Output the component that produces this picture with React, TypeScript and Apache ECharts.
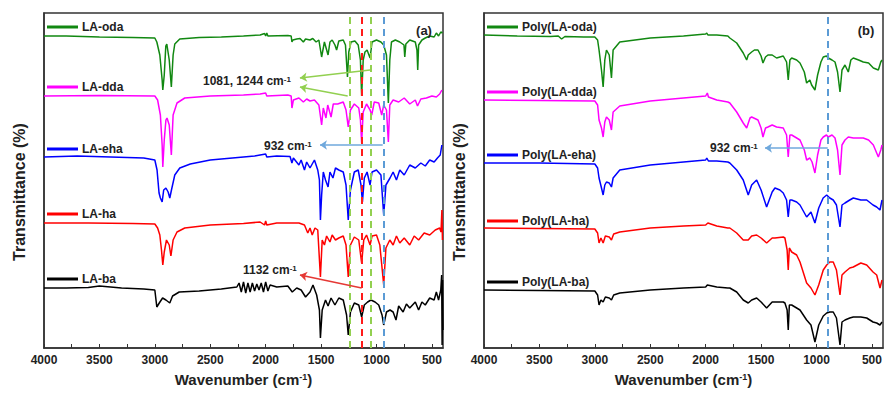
import React, { useEffect, useRef } from "react";
import * as echarts from "echarts";

// ---- Tick values (cm^-1) ----
const xLabelValues = [500, 1000, 1500, 2000, 2500, 3000, 3500, 4000];
const xTickValues = [500, 750, 1000, 1250, 1500, 1750, 2000, 2250, 2500, 2750, 3000, 3250, 3500, 3750, 4000];

// ---- Panel (a): monomers, [wavenumber, transmittance (offset, a.u.)] ----
const laOda = [[4000,31.2],[3800,31.2],[3500,31.1],[3200,31.05],[3000,31.0],[2982,30.6],[2955,29.3],[2934,26.8],[2928,25.8],[2915,27.3],[2901,30.2],[2892,30.4],[2870,28.8],[2851,26.1],[2835,29.3],[2820,30.4],[2775,30.9],[2600,31.05],[2400,31.1],[2200,31.2],[2050,31.3],[2010,31.45],[2000,31.2],[1990,31.5],[1980,31.2],[1800,31.25],[1770,31.2],[1763,30.6],[1754,30.8],[1720,30.9],[1690,30.95],[1660,30.6],[1640,30.9],[1600,30.8],[1575,30.95],[1545,30.6],[1520,30.8],[1495,29.1],[1470,30.6],[1437,29.3],[1420,30.6],[1400,30.8],[1375,30.3],[1360,29.8],[1340,30.7],[1300,30.8],[1280,30.3],[1262,27.1],[1250,29.6],[1230,30.6],[1195,30.7],[1165,30.3],[1145,28.8],[1134,25.2],[1120,28.8],[1104,29.6],[1085,29.8],[1058,29.0],[1040,30.6],[1000,30.8],[960,30.6],[935,30.3],[910,29.3],[893,24.5],[880,28.8],[865,30.6],[830,30.8],[790,30.6],[752,30.3],[745,29.1],[735,30.4],[700,30.8],[650,30.6],[635,29.8],[628,27.8],[620,30.3],[590,30.8],[560,31.0],[520,31.2],[480,31.1],[460,31.5],[440,31.2],[420,31.6],[405,31.5]];
const laDda = [[4000,25.2],[3500,25.25],[3000,25.2],[2975,24.8],[2950,23.3],[2934,20.3],[2928,18.1],[2915,20.8],[2900,22.8],[2890,23.0],[2870,22.3],[2851,19.3],[2835,23.3],[2800,24.5],[2730,25.0],[2500,25.2],[2200,25.3],[2050,25.4],[2000,25.5],[1990,25.2],[1800,25.3],[1770,25.2],[1763,24.0],[1750,24.8],[1700,25.0],[1660,24.6],[1630,24.9],[1600,24.7],[1560,24.8],[1520,24.3],[1495,22.3],[1480,24.0],[1456,23.0],[1440,24.3],[1410,23.1],[1390,24.4],[1350,24.4],[1300,24.6],[1275,23.8],[1255,22.1],[1235,23.8],[1200,24.4],[1160,24.0],[1145,22.8],[1134,20.5],[1120,23.6],[1090,24.4],[1058,23.8],[1043,23.3],[1020,24.6],[980,24.5],[953,23.3],[935,24.3],[910,23.8],[893,20.6],[880,24.3],[850,24.8],[800,24.6],[750,25.0],[700,24.4],[650,24.8],[630,24.2],[600,24.9],[550,25.0],[500,25.2],[460,25.1],[430,25.4],[410,25.8]];
const laEha = [[4000,19.1],[3700,19.2],[3400,19.1],[3100,19.0],[3000,18.8],[2980,17.8],[2962,15.5],[2950,15.0],[2934,14.6],[2920,15.8],[2900,16.0],[2880,15.6],[2865,15.0],[2850,15.8],[2820,17.3],[2775,18.0],[2680,18.4],[2500,18.8],[2300,19.0],[2100,19.2],[2000,19.4],[1990,19.1],[1900,19.2],[1780,19.15],[1763,18.5],[1750,19.0],[1700,18.3],[1680,18.8],[1650,17.8],[1630,18.6],[1600,18.0],[1560,18.8],[1530,17.8],[1515,16.8],[1506,12.8],[1495,15.3],[1480,17.6],[1460,16.8],[1437,16.1],[1420,17.6],[1393,17.0],[1370,18.0],[1340,17.8],[1300,17.6],[1275,16.3],[1255,12.8],[1235,15.8],[1200,17.6],[1165,17.8],[1140,16.3],[1127,14.6],[1110,17.0],[1085,17.6],[1058,16.3],[1040,17.6],[1000,17.8],[960,17.3],[935,13.3],[915,16.3],[878,17.0],[850,17.6],[820,16.8],[790,17.8],[750,17.3],[700,18.3],[650,18.0],[600,18.5],[560,18.2],[520,18.8],[480,18.6],[450,19.0],[425,19.3],[410,20.3]];
const laHa = [[4000,12.5],[3600,12.5],[3200,12.45],[3000,12.4],[2975,12.0],[2955,11.3],[2940,9.8],[2928,8.3],[2915,9.6],[2895,10.8],[2870,10.3],[2855,9.2],[2835,10.8],[2800,11.6],[2730,12.0],[2500,12.3],[2200,12.45],[2050,12.6],[2010,12.3],[2000,12.7],[1990,12.3],[1900,12.5],[1750,12.5],[1700,12.5],[1650,12.3],[1620,11.5],[1600,12.0],[1580,11.3],[1555,12.0],[1530,11.8],[1506,7.1],[1490,10.8],[1470,10.3],[1450,11.2],[1420,10.6],[1400,11.3],[1370,10.8],[1340,11.0],[1300,11.2],[1275,10.3],[1255,7.1],[1235,10.3],[1200,11.1],[1160,10.8],[1134,8.5],[1115,10.8],[1090,11.3],[1058,10.3],[1040,11.2],[1000,11.3],[970,10.3],[935,6.3],[915,10.0],[880,10.8],[850,10.3],[820,11.2],[790,10.5],[750,11.0],[700,10.3],[660,11.2],[620,10.8],[570,11.5],[520,11.3],[470,11.8],[430,12.0],[418,11.6],[410,13.8],[405,10.8]];
const laBa = [[4000,6.0],[3800,6.0],[3600,6.05],[3500,6.2],[3300,6.0],[3100,5.9],[3000,5.8],[2982,4.1],[2960,4.5],[2930,5.0],[2900,4.8],[2865,4.5],[2840,5.2],[2780,5.6],[2600,5.7],[2400,5.9],[2260,6.1],[2240,6.5],[2220,5.6],[2200,6.6],[2180,5.5],[2160,6.5],[2140,5.6],[2120,6.5],[2100,5.7],[2080,6.4],[2060,5.8],[2040,6.5],[2020,5.6],[2000,6.6],[1980,5.7],[1960,6.3],[1900,6.1],[1800,6.2],[1760,5.6],[1720,6.0],[1680,5.8],[1640,5.1],[1600,5.6],[1573,6.3],[1540,5.3],[1515,3.8],[1506,1.0],[1490,3.8],[1460,4.8],[1437,4.2],[1410,5.0],[1375,4.3],[1340,5.0],[1300,4.8],[1270,3.3],[1255,1.3],[1235,3.6],[1200,4.5],[1160,4.3],[1134,3.1],[1110,4.3],[1080,4.6],[1050,4.8],[1013,4.6],[980,4.3],[950,3.3],[935,2.3],[910,3.6],[878,3.8],[850,3.6],[824,2.8],[800,4.2],[760,3.6],[730,4.4],[700,4.0],[650,4.6],[620,3.8],[590,4.6],[560,4.3],[520,5.0],[480,4.8],[460,5.6],[440,4.8],[420,5.8],[412,7.3],[408,0.3],[404,6.8],[400,1.8]];

// ---- Panel (b): polymers ----
const polyOda = [[4000,31.3],[3700,31.2],[3400,31.15],[3330,31.2],[3300,30.9],[3270,31.15],[3100,31.1],[3000,31.1],[2975,30.8],[2962,29.8],[2940,27.8],[2925,26.1],[2910,28.8],[2895,29.8],[2870,29.3],[2850,27.0],[2835,29.8],[2775,30.6],[2500,31.0],[2200,31.2],[2000,31.4],[1990,31.5],[1980,31.3],[1900,31.3],[1800,31.2],[1782,31.0],[1720,30.5],[1661,29.5],[1630,28.8],[1616,29.3],[1585,29.6],[1560,29.8],[1528,29.8],[1500,29.2],[1483,28.5],[1460,29.1],[1438,29.3],[1400,29.3],[1360,29.0],[1300,29.2],[1270,28.6],[1255,26.8],[1240,28.8],[1224,29.0],[1179,28.8],[1149,28.5],[1110,27.6],[1089,26.5],[1060,26.8],[1044,26.3],[1014,25.8],[990,27.3],[960,28.6],[939,29.1],[910,29.2],[894,29.0],[860,28.8],[833,28.6],[810,27.6],[788,25.6],[770,27.8],[743,28.3],[713,27.6],[690,28.8],[668,29.0],[620,28.8],[578,28.6],[530,28.5],[487,28.0],[442,27.8],[420,28.6],[409,28.8]];
const polyDda = [[4000,24.8],[3500,24.75],[3000,24.7],[2975,24.3],[2962,22.8],[2940,22.0],[2925,21.1],[2910,22.6],[2895,23.1],[2870,22.8],[2850,21.8],[2835,23.6],[2775,24.2],[2500,24.7],[2200,25.0],[2000,25.2],[1985,25.5],[1975,25.1],[1900,24.8],[1800,24.6],[1782,24.5],[1720,23.6],[1661,22.5],[1630,22.0],[1600,23.0],[1585,23.1],[1528,22.8],[1500,22.0],[1483,21.1],[1460,22.0],[1438,22.1],[1400,22.3],[1360,22.1],[1300,22.0],[1270,21.3],[1255,19.1],[1240,21.3],[1224,21.3],[1179,21.0],[1149,20.8],[1110,19.8],[1089,18.8],[1060,19.0],[1040,18.6],[1014,17.5],[990,19.3],[960,20.8],[939,21.1],[910,21.3],[894,21.1],[860,21.3],[833,21.0],[810,19.8],[788,17.3],[770,20.3],[743,20.8],[713,21.1],[668,21.0],[578,21.0],[530,20.8],[487,20.3],[442,19.1],[420,19.8],[409,20.3]];
const polyEha = [[4000,18.5],[3500,18.5],[3000,18.4],[2975,18.0],[2962,17.0],[2940,16.0],[2925,15.3],[2910,16.3],[2895,16.6],[2870,16.5],[2850,16.1],[2835,17.0],[2775,17.8],[2500,18.3],[2200,18.6],[2000,18.8],[1990,19.0],[1975,18.7],[1900,18.7],[1800,18.6],[1782,18.5],[1720,17.8],[1661,16.8],[1616,15.3],[1585,16.3],[1540,16.8],[1500,15.8],[1450,14.1],[1400,15.6],[1375,16.0],[1330,15.8],[1300,15.5],[1270,14.8],[1255,13.1],[1240,14.8],[1224,14.8],[1179,14.6],[1149,14.3],[1089,13.1],[1050,13.6],[1014,12.5],[980,14.0],[940,15.0],[908,15.3],[880,15.0],[849,14.8],[820,14.3],[788,12.1],[770,14.3],[743,14.5],[700,14.8],[668,15.0],[600,14.8],[547,14.8],[490,14.3],[457,14.1],[427,13.8],[409,14.8]];
const polyHa = [[4000,12.0],[3500,11.95],[3000,11.9],[2975,11.5],[2962,10.5],[2945,11.0],[2925,10.5],[2905,11.2],[2870,11.1],[2850,10.8],[2830,11.4],[2775,11.6],[2500,12.0],[2200,12.2],[2000,12.3],[1980,12.5],[1900,12.2],[1800,12.0],[1782,12.0],[1720,11.5],[1661,10.8],[1616,10.8],[1585,11.2],[1540,11.3],[1500,11.0],[1450,10.5],[1400,11.0],[1375,11.0],[1300,11.1],[1285,11.0],[1265,9.8],[1255,7.8],[1245,10.0],[1224,9.6],[1179,9.3],[1149,8.6],[1089,6.5],[1050,6.0],[1014,5.3],[980,6.3],[939,7.8],[908,8.3],[880,8.6],[849,8.6],[820,7.8],[788,5.3],[770,7.3],[743,7.6],[700,8.0],[668,8.1],[600,8.5],[547,8.3],[490,7.6],[457,7.3],[427,6.0],[409,6.8]];
const polyBa = [[4000,5.8],[3500,5.75],[3000,5.7],[2975,5.3],[2962,4.3],[2945,4.8],[2925,4.6],[2905,5.1],[2870,5.0],[2850,4.8],[2830,5.3],[2775,5.5],[2500,5.8],[2200,6.0],[2000,6.1],[1985,6.3],[1900,6.1],[1800,6.0],[1782,6.0],[1720,5.6],[1661,4.8],[1616,4.5],[1585,4.8],[1540,5.0],[1500,4.6],[1450,4.0],[1400,4.6],[1375,4.6],[1300,4.6],[1285,4.5],[1265,3.8],[1255,1.8],[1245,4.3],[1224,4.3],[1179,4.0],[1149,3.8],[1089,2.8],[1050,2.3],[1014,0.6],[980,2.3],[939,3.2],[908,3.5],[880,3.6],[849,3.6],[820,3.0],[788,0.3],[770,2.6],[743,2.8],[700,3.0],[668,3.1],[600,3.1],[547,3.0],[490,2.6],[457,2.5],[427,2.3],[409,2.6]];

const namesA = ["LA-oda", "LA-dda", "LA-eha", "LA-ha", "LA-ba"];
const namesB = ["Poly(LA-oda)", "Poly(LA-dda)", "Poly(LA-eha)", "Poly(LA-ha)", "Poly(LA-ba)"];
const colors = ["#118811", "#ff00ff", "#0000ff", "#ff0000", "#000000"];
const dataA = [laOda, laDda, laEha, laHa, laBa];
const dataB = [polyOda, polyDda, polyEha, polyHa, polyBa];

// marker positions (cm^-1)
const markA = [
  { x: 1244, c: "#92d050" },
  { x: 1132, c: "#ff1a1a" },
  { x: 1052, c: "#92d050" },
  { x: 932, c: "#5b9bd5" },
];
const markB = [{ x: 900, c: "#5b9bd5" }];

const FONT = "'Liberation Sans', Arial, sans-serif";
const TXT = "#222";

function arrow(from: number[], to: number[], color: string) {
  return [
    { coord: from, symbol: "none", lineStyle: { color, width: 1.5, type: "solid" } },
    { coord: to, symbol: "arrow", symbolSize: 7 },
  ];
}

function supText(main: string, tail = "") {
  return `{a|${main}}{s|-1}${tail ? `{a|${tail}}` : ""}`;
}

export default function App() {
  const ref = useRef<HTMLDivElement>(null);
  useEffect(() => {
    if (!ref.current) return;
    const chart = echarts.init(ref.current, undefined, { renderer: "svg" });

    const mkX = (i: number) => ({
      type: "value",
      gridIndex: i,
      inverse: true,
      min: 400,
      max: 4000,
      axisLine: { show: true, onZero: false, lineStyle: { color: "#333", width: 1.5 } },
      axisTick: { show: true, inside: true, length: 4, customValues: xTickValues, lineStyle: { color: "#333", width: 1 } },
      axisLabel: {
        customValues: xLabelValues,
        formatter: (v: number) => String(v),
        fontSize: 12,
        fontWeight: "bold",
        color: TXT,
        margin: 6,
        fontFamily: FONT,
      },
      splitLine: { show: false },
      name: supText("Wavenumber (cm", ")"),
      nameLocation: "middle",
      nameGap: 24,
      nameTextStyle: {
        rich: {
          a: { fontSize: 15, fontWeight: "bold", color: TXT, fontFamily: FONT },
          s: { fontSize: 9, fontWeight: "bold", color: TXT, fontFamily: FONT, verticalAlign: "top" },
        },
      },
    });
    const mkY = (i: number) => ({
      type: "value",
      gridIndex: i,
      min: 0,
      max: 33.5,
      axisLine: { show: true, lineStyle: { color: "#333", width: 1.5 } },
      axisTick: { show: false },
      axisLabel: { show: false },
      splitLine: { show: false },
    });

    const mkSeries = (names: string[], data: number[][][], gi: number, marks: any[]) =>
      names.map((n, k) => ({
        type: "line",
        name: n,
        xAxisIndex: gi,
        yAxisIndex: gi,
        data: data[k],
        showSymbol: false,
        symbol: "none",
        color: colors[k],
        lineStyle: { width: 1.5, color: colors[k] },
        z: 3,
        ...(k === names.length - 1
          ? {
              markLine: {
                silent: true,
                animation: false,
                symbol: ["none", "none"],
                label: { show: false },
                emphasis: { disabled: true },
                data: marks,
              },
            }
          : {}),
      }));

    const marksA: any[] = [
      ...markA.map((m) => ({ xAxis: m.x, lineStyle: { color: m.c, type: [7, 5], width: 2 } })),
      arrow([1058, 27.8], [1691, 27.0], "#92d050"),
      arrow([1260, 25.2], [1691, 26.1], "#92d050"),
      arrow([944, 20.3], [1510, 20.3], "#6fa8dc"),
      arrow([1134, 6.0], [1691, 7.3], "#e53935"),
    ];
    const marksB: any[] = [
      ...markB.map((m) => ({ xAxis: m.x, lineStyle: { color: m.c, type: [7, 5], width: 2 } })),
      arrow([899, 20.0], [1465, 20.0], "#6fa8dc"),
    ];

    const legendTopsA = [21, 81, 143, 208, 273];
    const legendTopsB = [21, 86, 149, 215, 276];
    const mkLegend = (name: string, left: number, top: number) => ({
      data: [name],
      left,
      top,
      padding: 0,
      icon: "rect",
      itemWidth: 31,
      itemHeight: 3,
      selectedMode: false,
      textStyle: { fontSize: 12, fontWeight: "bold", color: TXT, fontFamily: FONT, padding: [0, 0, 0, -1] },
    });

    const richA = {
      a: { fontSize: 12, fontWeight: "bold", fill: TXT, fontFamily: FONT },
      s: { fontSize: 8, fontWeight: "bold", fill: TXT, fontFamily: FONT, verticalAlign: "top" },
    };
    const note = (text: string, x: number, y: number) => ({
      type: "text",
      x,
      y,
      z: 10,
      style: { text, rich: richA, fill: TXT, align: "left", verticalAlign: "middle", font: `bold 12px ${FONT}` },
    });
    const plain = (text: string, x: number, y: number, size: number, rot = 0) => ({
      type: "text",
      x,
      y,
      rotation: rot,
      z: 10,
      style: { text, fill: TXT, align: "center", verticalAlign: "middle", font: `bold ${size}px ${FONT}` },
    });

    const gridBase = {
      top: 13,
      bottom: 46,
      show: true,
      borderColor: "#333",
      borderWidth: 1.5,
      containLabel: false,
      outerBoundsMode: "none",
    };

    const option: any = {
      animation: false,
      grid: [
        { ...gridBase, left: 44, right: 441 },
        { ...gridBase, left: 484, right: 1 },
      ],
      xAxis: [mkX(0), mkX(1)],
      yAxis: [mkY(0), mkY(1)],
      legend: [
        ...namesA.map((n, k) => mkLegend(n, 47, legendTopsA[k])),
        ...namesB.map((n, k) => mkLegend(n, 487, legendTopsB[k])),
      ],
      series: [...mkSeries(namesA, dataA, 0, marksA), ...mkSeries(namesB, dataB, 1, marksB)],
      graphic: [
        note(supText("1081, 1244 cm"), 203, 81),
        note(supText("932 cm"), 264, 146),
        note(supText("1132 cm"), 243, 270),
        note(supText("932 cm"), 710, 148),
        plain("(a)", 424, 30, 13),
        plain("(b)", 866, 30, 13),
        plain("Transmittance (%)", 19, 192, 16, Math.PI / 2),
        plain("Transmittance (%)", 459, 192, 16, Math.PI / 2),
      ],
    };
    chart.setOption(option);
    return () => chart.dispose();
  }, []);
  return (
    <div
      ref={ref}
      style={{ position: "fixed", left: 0, top: 0, width: 884, height: 394, background: "#fff" }}
    />
  );
}
